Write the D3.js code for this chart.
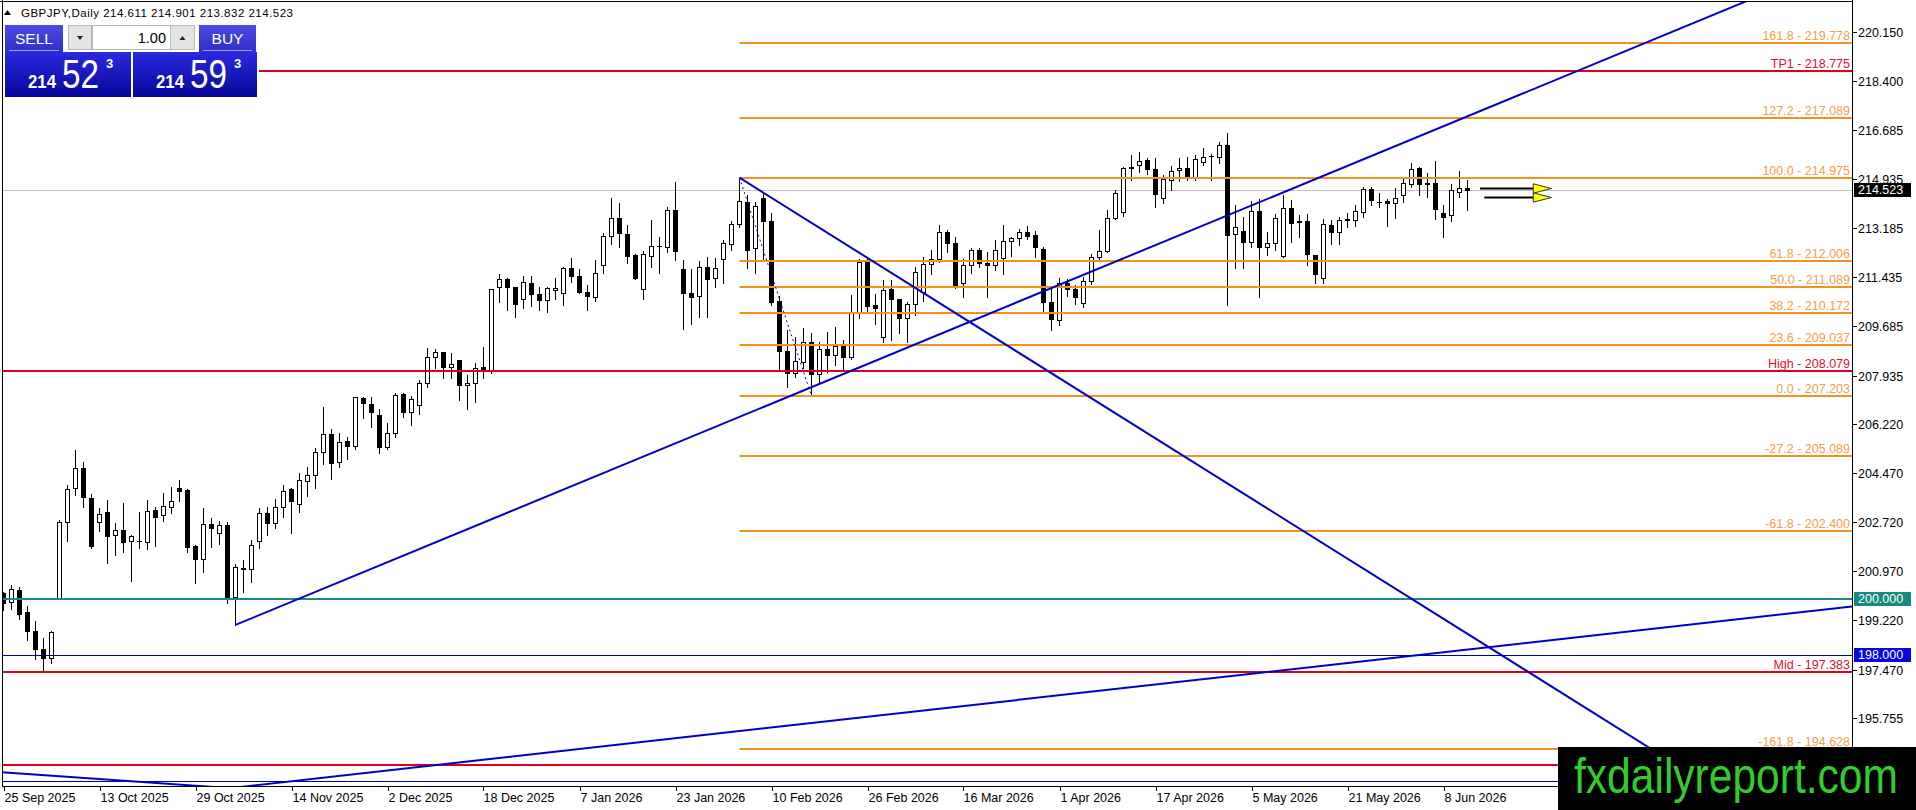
<!DOCTYPE html>
<html><head><meta charset="utf-8">
<script src="https://cdn.jsdelivr.net/npm/d3@7"></script>
<style>
html,body{margin:0;padding:0;background:#fff;overflow:hidden}
svg{display:block}
text{font-family:"Liberation Sans",Arial,sans-serif}
</style></head><body>
<svg id="c" width="1916" height="810"></svg>
<script>
// ---------- DATA ----------
const symbol = "GBPJPY,Daily";
const openP = [200.18,199.86,200.30,199.52,198.84,198.20,197.87,200.03,202.71,203.92,204.63,203.56,202.73,203.07,202.25,202.44,202.04,202.06,202.02,203.15,
202.96,203.27,203.93,203.86,201.87,201.39,202.64,202.32,202.60,200.07,201.06,201.04,202.05,203.03,202.68,203.24,203.90,203.35,204.17,204.39,
205.20,205.84,204.85,205.61,205.43,207.14,206.92,206.53,205.38,205.90,207.27,206.65,206.89,207.66,208.58,208.76,208.25,208.49,207.59,207.66,
208.23,208.11,211.07,211.36,211.10,210.65,211.22,210.82,210.62,210.98,210.86,211.75,211.48,210.92,210.72,211.87,212.90,213.53,212.96,212.21,
211.00,212.20,212.55,212.52,213.82,211.71,210.87,210.77,211.81,211.39,212.10,212.60,213.32,214.10,212.46,214.24,213.44,210.60,208.81,208.01,
208.43,209.14,207.98,208.87,208.67,209.02,208.61,210.21,211.99,210.45,209.32,211.02,210.65,210.00,210.48,210.90,211.89,212.07,213.03,212.64,
211.22,211.87,212.40,211.93,211.87,212.13,212.72,212.82,213.03,212.94,212.44,210.56,209.90,211.24,211.01,210.53,211.31,212.14,212.37,213.53,
213.74,215.31,215.43,215.60,215.27,214.24,214.89,215.25,215.31,215.01,215.55,215.75,215.70,216.14,212.96,213.08,212.70,213.80,212.52,212.64,
212.19,213.89,213.43,213.43,212.22,211.39,213.28,213.03,213.47,213.47,213.74,214.57,214.12,214.15,214.06,214.36,214.75,215.31,214.80,214.80,
213.71,213.65,214.48,214.611];
const highP = [200.24,200.48,200.41,199.73,199.19,198.58,198.86,202.79,204.04,205.28,204.85,203.72,203.21,203.50,202.68,203.39,202.25,203.09,203.50,203.27,
203.74,203.98,204.22,203.90,201.90,203.21,202.85,202.77,202.71,201.23,201.37,202.08,203.23,203.27,203.53,204.04,203.92,204.48,204.67,205.34,
206.83,206.02,205.88,205.76,207.18,207.16,207.16,206.74,206.23,207.33,207.30,207.21,207.78,208.90,208.87,208.79,208.72,208.49,207.95,208.37,
208.96,211.02,211.55,211.39,211.10,211.48,211.48,211.10,211.10,211.39,211.79,212.12,211.71,211.16,212.05,213.00,214.24,214.06,213.29,212.25,
212.37,213.47,212.88,213.92,214.83,212.05,211.71,212.02,212.17,212.13,212.76,213.44,214.975,214.36,214.12,214.40,213.71,210.77,209.55,209.32,
209.64,209.46,209.14,209.50,209.65,209.20,210.80,212.07,212.07,210.84,211.34,211.34,210.65,210.56,211.81,212.17,212.40,213.29,213.11,212.85,
212.07,212.46,212.46,212.34,212.76,213.29,212.88,213.16,213.26,213.08,212.52,211.00,211.39,211.36,211.16,211.45,212.25,213.11,213.83,214.54,
215.37,215.78,215.88,215.66,215.66,215.07,215.39,215.66,215.70,215.78,216.02,215.82,216.23,216.55,214.00,213.56,214.15,214.20,213.05,213.67,
214.36,214.18,213.65,213.67,212.22,213.49,213.47,213.56,213.71,214.00,214.66,214.66,214.44,214.20,214.60,214.95,215.49,215.37,215.13,215.57,
214.00,214.75,215.21,214.901];
const lowP = [199.59,199.63,199.28,198.52,197.86,197.43,197.69,200.01,202.06,203.68,203.27,201.81,202.40,201.27,201.56,201.67,200.64,201.79,201.76,201.87,
202.76,203.03,203.48,201.67,200.54,200.96,201.82,201.94,199.83,199.06,200.24,200.60,201.79,202.26,202.50,202.91,202.32,203.09,203.66,203.94,
204.78,204.24,204.67,204.95,205.31,206.41,206.12,205.17,205.31,205.73,206.47,206.18,206.55,207.54,208.19,207.86,207.84,207.06,206.73,207.01,
207.84,208.04,210.56,210.27,210.01,210.33,210.41,210.27,210.21,210.65,210.45,211.27,210.88,210.27,210.60,211.60,212.62,212.50,211.95,211.36,
210.66,211.81,211.57,212.34,212.05,209.58,209.76,210.01,210.03,211.07,211.24,212.42,213.23,211.75,211.57,212.08,210.45,208.13,207.51,207.89,
208.19,207.203,207.63,208.07,208.31,208.13,208.51,209.97,210.21,209.77,209.14,209.20,209.44,209.14,210.09,210.60,211.55,211.99,212.32,211.04,
210.74,211.60,211.81,210.74,211.69,211.55,212.19,212.58,212.78,212.17,210.15,209.55,209.72,210.75,210.47,210.39,211.18,212.07,212.34,213.49,
213.62,214.89,215.19,215.09,213.94,214.09,214.54,214.87,214.89,214.89,215.43,214.89,215.49,210.44,211.77,211.75,212.52,210.72,212.22,212.40,
212.16,212.70,212.85,211.87,211.24,211.24,212.60,212.60,213.23,213.26,213.59,214.00,213.94,213.26,213.53,214.12,214.66,214.36,214.30,213.49,
212.88,213.45,214.30,213.832];
const closeP = [199.85,200.33,199.45,198.86,198.19,197.87,198.81,202.71,203.89,204.63,203.62,201.88,202.99,202.24,202.43,202.02,202.21,202.04,203.10,202.91,
203.29,203.46,203.84,201.84,201.39,202.64,202.50,202.60,200.03,201.11,201.08,201.89,203.03,202.68,203.24,203.84,203.48,204.21,204.40,205.20,
205.84,204.81,205.56,205.43,207.16,206.95,206.62,205.38,205.88,207.24,206.65,207.09,207.66,208.58,208.76,208.25,208.33,207.60,207.66,208.21,
208.11,211.00,211.36,211.07,210.47,211.28,210.82,210.62,211.04,211.04,211.75,211.48,210.92,210.78,211.60,212.90,213.53,212.99,212.19,211.42,
212.25,212.56,212.53,213.82,212.38,210.86,210.74,211.81,211.37,211.75,212.64,213.32,214.15,212.42,213.97,213.44,210.56,208.82,208.01,208.46,
209.14,207.98,208.87,208.67,209.00,208.61,210.21,211.96,210.42,210.35,210.98,210.65,210.00,210.48,211.63,211.89,212.07,213.03,212.64,211.16,
211.87,212.40,211.93,211.87,212.40,212.72,212.84,213.03,212.91,212.52,210.56,209.93,211.22,211.00,210.74,211.31,212.14,212.37,213.53,214.44,
215.31,215.37,215.58,215.27,214.38,214.92,215.22,215.31,215.01,215.63,215.72,215.74,216.14,212.93,213.21,212.70,213.80,212.52,212.64,213.55,
213.89,213.37,213.40,212.25,211.54,213.32,213.05,213.47,213.50,213.79,214.56,214.18,214.10,214.09,214.24,214.77,215.27,214.74,214.75,213.85,
213.59,214.54,214.60,214.523];

const dateTicks = ["25 Sep 2025","13 Oct 2025","29 Oct 2025","14 Nov 2025","2 Dec 2025","18 Dec 2025","7 Jan 2026","23 Jan 2026",
"10 Feb 2026","26 Feb 2026","16 Mar 2026","1 Apr 2026","17 Apr 2026","5 May 2026","21 May 2026","8 Jun 2026"];
const barsPerDateTick = 12;
const priceTicks = ["220.150","218.400","216.685","214.935","213.185","211.435","209.685","207.935","206.220","204.470","202.720","200.970","199.220","197.470","195.755"];

const fibRatios = [161.8,127.2,100.0,61.8,50.0,38.2,23.6,0.0,-27.2,-61.8,-161.8];
const fibPrices = [219.778,217.089,214.975,212.006,211.089,210.172,209.037,207.203,205.089,202.400,194.628];
const fibAnchors = [{i:92,p:214.975},{i:101,p:207.203}];

const redNames = ["TP1","High","Mid",""];
const redPrices = [218.775,208.079,197.383,194.07];

const roundLevels = [{p:200.000, color:"#1e8a82", w:2, box:"#168a80"},{p:198.000, color:"#000099", w:1, box:"#0505e0"}];
const floorLine = 193.49;

const bid = 214.523, ask = 214.593, lot = "1.00";

// trend lines: pairs of anchor points (bar index, price)
const trendUp   = [{i:29,p:199.06},{i:175,p:216.22}];    // ray to the right
const trendDown = [{i:92,p:214.975},{i:185.56,p:198.285}];// ray to the right
const trendLong = [{i:87.05,p:195.125},{i:231.05,p:199.715}]; // infinite
const trendLeft = [{i:-0.45,p:193.825},{i:24.55,p:193.327}];  // infinite

const arrows = [{i0:184.56,i1:191.22,tip:193.5,p:214.619},{i0:185.1,i1:191.22,tip:193.5,p:214.299}];

// ---------- SCALES ----------
const W=1916,H=810, plotL=2, plotR=1852, plotT=2, plotB=786;
const x = d3.scaleLinear().domain([0,231]).range([3.5,1851.5]);
const y = d3.scaleLinear().domain([193.328,221.228]).range([plotB,plotT]);

const svg = d3.select("#c");
svg.append("rect").attr("width",W).attr("height",H).attr("fill","#fff");
const defs = svg.append("defs");
defs.append("clipPath").attr("id","plot").append("rect")
  .attr("x",plotL).attr("y",plotT).attr("width",plotR-plotL).attr("height",plotB-plotT);

const g = svg.append("g").attr("clip-path","url(#plot)");
const crisp = v => Math.round(v)+0.5;

// current price line (behind candles)
g.append("line").attr("x1",plotL).attr("x2",plotR)
  .attr("y1",crisp(y(bid))).attr("y2",crisp(y(bid))).attr("stroke","#c0c0c0").attr("stroke-width",1);

// candles
const idx = d3.range(openP.length);
const cg = g.append("g");
cg.selectAll("line.w").data(idx).join("line")
  .attr("x1",i=>x(i)).attr("x2",i=>x(i))
  .attr("y1",i=>Math.round(y(highP[i]))).attr("y2",i=>Math.round(y(lowP[i]))+1)
  .attr("stroke","#000").attr("stroke-width",1);
cg.selectAll("rect.b").data(idx).join("rect")
  .attr("x",i=> closeP[i]>=openP[i] ? x(i)-2 : x(i)-2.5)
  .attr("width",i=> closeP[i]>=openP[i] ? 4 : 5)
  .attr("y",i=>{const t=Math.round(y(Math.max(openP[i],closeP[i]))); return closeP[i]>=openP[i]? t+0.5 : t;})
  .attr("height",i=>{const t=Math.round(y(Math.max(openP[i],closeP[i]))), b=Math.round(y(Math.min(openP[i],closeP[i])));
      return Math.max(closeP[i]>=openP[i]? b-t : b-t+1, 1);})
  .attr("fill",i=> closeP[i]>=openP[i] ? "#fff" : "#000")
  .attr("stroke",i=> closeP[i]>=openP[i] ? "#000" : "none")
  .attr("stroke-width",1);

// objects
const og = g.append("g");
og.append("line").attr("x1",plotL).attr("x2",plotR).attr("y1",crisp(y(floorLine))).attr("y2",crisp(y(floorLine)))
  .attr("stroke","#000099").attr("stroke-width",1);
roundLevels.forEach(r=>{
  const yy = r.w===1 ? crisp(y(r.p)) : Math.round(y(r.p));
  og.append("line").attr("x1",plotL).attr("x2",plotR).attr("y1",yy).attr("y2",yy)
    .attr("stroke",r.color).attr("stroke-width",r.w);
});
fibPrices.forEach((p,k)=>{
  const yy=Math.round(y(p));
  og.append("line").attr("x1",x(fibAnchors[0].i)).attr("x2",plotR).attr("y1",yy).attr("y2",yy)
    .attr("stroke","#f5921e").attr("stroke-width",2);
});
redPrices.forEach((p,k)=>{
  const yy=Math.round(y(p));
  og.append("line").attr("x1",plotL).attr("x2",plotR).attr("y1",yy).attr("y2",yy)
    .attr("stroke","#e0001a").attr("stroke-width",2);
});
function lineThrough(a,b,x0,x1){
  const xa=x(a.i), ya=y(a.p), xb=x(b.i), yb=y(b.p), s=(yb-ya)/(xb-xa);
  return [[x0, ya+s*(x0-xa)],[x1, ya+s*(x1-xa)]];
}
const tl = (pts,color,w,dash)=>{
  const l=og.append("line").attr("x1",pts[0][0]).attr("y1",pts[0][1]).attr("x2",pts[1][0]).attr("y2",pts[1][1])
    .attr("stroke",color).attr("stroke-width",w);
  if(dash) l.attr("stroke-dasharray",dash);
};
tl(lineThrough(trendUp[0],trendUp[1],x(trendUp[0].i),plotR),"#0000c8",2);
tl(lineThrough(trendDown[0],trendDown[1],x(trendDown[0].i),plotR),"#0000c8",2);
tl(lineThrough(trendLong[0],trendLong[1],plotL-50,plotR),"#0000c8",2);
tl(lineThrough(trendLeft[0],trendLeft[1],plotL,plotL+400),"#0000c8",2);
tl([[x(fibAnchors[0].i),y(fibAnchors[0].p)],[x(fibAnchors[1].i),y(fibAnchors[1].p)]],"#0000c8",1,"2,3");

arrows.forEach(a=>{
  const yy=Math.round(y(a.p))+0.5;
  og.append("line").attr("x1",x(a.i0)).attr("x2",x(a.i1)).attr("y1",yy).attr("y2",yy).attr("stroke","#000").attr("stroke-width",2);
});
arrows.forEach(a=>{
  const yy=Math.round(y(a.p))+0.5;
  og.append("path").attr("d",`M${x(a.i1)},${yy-4.7}L${x(a.tip)},${yy}L${x(a.i1)},${yy+4.7}Z`)
    .attr("fill","#ffff00").attr("stroke","#333").attr("stroke-width",1);
});

const lab = svg.append("g").attr("font-size","12.5px").attr("text-anchor","end");
fibPrices.forEach((p,k)=>{
  lab.append("text").attr("x",1850).attr("y",Math.round(y(p))-3).attr("fill","#f0a04b")
    .text(fibRatios[k].toFixed(1)+" - "+p.toFixed(3));
});
redPrices.forEach((p,k)=>{
  if(!redNames[k]) return;
  lab.append("text").attr("x",1850).attr("y",Math.round(y(p))-3).attr("fill","#dc1030")
    .text(redNames[k]+" - "+p.toFixed(3));
});

// frame
svg.append("line").attr("x1",plotL+0.5).attr("x2",plotL+0.5).attr("y1",0).attr("y2",plotB).attr("stroke","#000");
svg.append("line").attr("x1",0).attr("x2",plotR).attr("y1",1.5).attr("y2",1.5).attr("stroke","#000");
svg.append("line").attr("x1",plotR+0.5).attr("x2",plotR+0.5).attr("y1",0).attr("y2",plotB+1).attr("stroke","#000");
svg.append("line").attr("x1",plotL).attr("x2",plotR+1).attr("y1",plotB+0.5).attr("y2",plotB+0.5).attr("stroke","#000");

// right axis
const ax = svg.append("g").attr("font-size","12.5px").attr("fill","#000");
priceTicks.forEach(t=>{
  const yy=Math.round(y(+t))+0.5;
  ax.append("line").attr("x1",plotR).attr("x2",plotR+5).attr("y1",yy).attr("y2",yy).attr("stroke","#000");
  ax.append("text").attr("x",plotR+6).attr("y",yy).attr("dominant-baseline","central").text(t);
});
function axisBox(p,fill){
  const yy=Math.round(y(p));
  ax.append("rect").attr("x",plotR+2).attr("y",yy-7).attr("width",57).attr("height",14).attr("fill",fill);
  ax.append("text").attr("x",plotR+6).attr("y",yy).attr("dominant-baseline","central").attr("fill","#fff").text(p.toFixed(3));
}
roundLevels.forEach(r=>axisBox(r.p,r.box));
axisBox(bid,"#000");

// bottom axis
const bx = svg.append("g").attr("font-size","12.5px");
dateTicks.forEach((t,k)=>{
  const xx=Math.round(x(k*barsPerDateTick))+0.5;
  bx.append("line").attr("x1",xx).attr("x2",xx).attr("y1",plotB).attr("y2",plotB+5).attr("stroke","#000");
  bx.append("text").attr("x",xx).attr("y",802).text(t);
});

// watermark
svg.append("rect").attr("x",1558).attr("y",747).attr("width",358).attr("height",63).attr("fill","#000");
svg.append("text").attr("x",1574).attr("y",793).attr("font-family","'Liberation Sans Narrow','Liberation Sans',Arial")
  .attr("font-size","50px").attr("fill","#33cc2e").attr("textLength",324).attr("lengthAdjust","spacingAndGlyphs")
  .text("fxdailyreport.com");

// ---------- title + trade panel ----------
const tp = svg.append("g");
tp.append("rect").attr("x",3).attr("y",3).attr("width",300).attr("height",18).attr("fill","#fff");
tp.append("path").attr("d","M4,15L7.5,10L11,15Z").attr("fill","#000");
tp.append("text").attr("x",21).attr("y",16.5).attr("font-size","11.5px").attr("fill","#000")
  .attr("textLength",272).attr("lengthAdjust","spacing")
  .text(`${symbol}  ${openP[openP.length-1].toFixed(3)} ${highP[highP.length-1].toFixed(3)} ${lowP[lowP.length-1].toFixed(3)} ${closeP[closeP.length-1].toFixed(3)}`);

const g1 = defs.append("linearGradient").attr("id","btn").attr("x1",0).attr("x2",0).attr("y1",0).attr("y2",1);
g1.append("stop").attr("offset","0").attr("stop-color","#4a4ae4");
g1.append("stop").attr("offset","1").attr("stop-color","#3030c8");
const g2 = defs.append("linearGradient").attr("id","big").attr("x1",0).attr("x2",0).attr("y1",0).attr("y2",1);
g2.append("stop").attr("offset","0").attr("stop-color","#2a2ae0");
g2.append("stop").attr("offset","1").attr("stop-color","#06069a");

tp.append("rect").attr("x",3).attr("y",22).attr("width",256).attr("height",78).attr("fill","#fff");
[[5,58,"SELL"],[199,57,"BUY"]].forEach(([bx0,bw,t])=>{
  tp.append("rect").attr("x",bx0).attr("y",25).attr("width",bw).attr("height",27).attr("fill","url(#btn)");
  tp.append("line").attr("x1",bx0+4).attr("x2",bx0+bw-4).attr("y1",50.5).attr("y2",50.5).attr("stroke","#9a9af0");
  tp.append("text").attr("x",bx0+bw/2).attr("y",44).attr("text-anchor","middle").attr("font-size","15.5px").attr("fill","#fff").text(t);
});
tp.append("rect").attr("x",68.5).attr("y",25.5).attr("width",23).attr("height",24).attr("fill","#e4e4e4").attr("stroke","#b8b8b8");
tp.append("rect").attr("x",92.5).attr("y",25.5).attr("width",78).attr("height",24).attr("fill","#fff").attr("stroke","#b8b8b8");
tp.append("rect").attr("x",170.5).attr("y",25.5).attr("width",24).attr("height",24).attr("fill","#e4e4e4").attr("stroke","#b8b8b8");
tp.append("path").attr("d","M77,36L83,36L80,40Z").attr("fill","#222");
tp.append("path").attr("d","M179.5,40L185.5,40L182.5,36Z").attr("fill","#222");
tp.append("text").attr("x",166).attr("y",42.5).attr("text-anchor","end").attr("font-size","14.5px").attr("fill","#000").text(lot);
function priceParts(v){ const s=v.toFixed(3); return [s.slice(0,3), s.slice(4,6), s.slice(6)]; }
[[5,126,bid],[133,124,ask]].forEach(([bx0,bw,v])=>{
  const [a,b,c]=priceParts(v);
  tp.append("rect").attr("x",bx0).attr("y",52).attr("width",bw).attr("height",45).attr("fill","url(#big)");
  tp.append("text").attr("x",bx0+23).attr("y",88).attr("font-size","19px").attr("font-weight","bold").attr("fill","#fff")
    .attr("textLength",28).attr("lengthAdjust","spacingAndGlyphs").text(a);
  tp.append("text").attr("x",bx0+57).attr("y",88).attr("font-size","40px").attr("fill","#fff")
    .attr("textLength",37).attr("lengthAdjust","spacingAndGlyphs").text(b);
  tp.append("text").attr("x",bx0+101).attr("y",68).attr("font-size","13px").attr("font-weight","bold").attr("fill","#fff").text(c);
});
</script>
</body></html>
